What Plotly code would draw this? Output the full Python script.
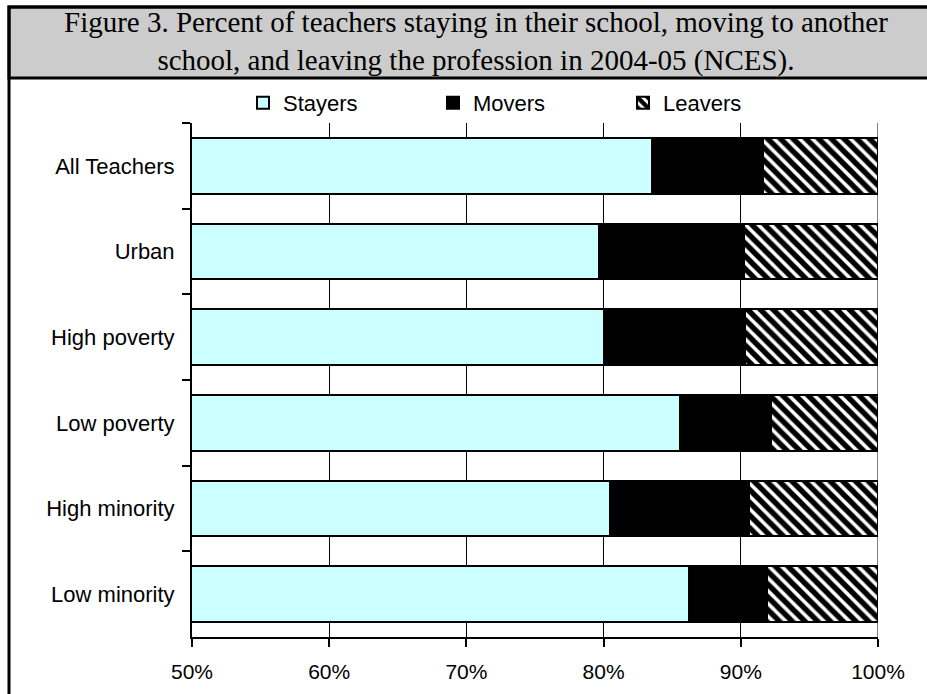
import plotly.graph_objects as go

categories = ["All Teachers", "Urban", "High poverty", "Low poverty", "High minority", "Low minority"]
stayers = [83.5, 79.7, 80.0, 85.6, 80.5, 86.2]
movers = [8.1, 10.5, 10.3, 6.6, 10.1, 5.7]
leavers = [8.4, 9.8, 9.7, 7.8, 9.4, 8.1]
x_ticks = [50, 60, 70, 80, 90, 100]
x_tick_labels = ["50%", "60%", "70%", "80%", "90%", "100%"]

title_text = ("Figure 3. Percent of teachers staying in their school, moving to another<br>"
              "school, and leaving the profession in 2004-05 (NCES).")

W, H = 927, 694
L, R, T, B = 192, 49, 123, 57
pw, ph = W - L - R, H - T - B


def px_x(p):
    return (p - L) / pw


def px_y(p):
    return (H - B - p) / ph


sans = "Arial, Liberation Sans, sans-serif"
serif = "Times New Roman, Liberation Serif, serif"

fig = go.Figure()
fig.add_trace(go.Bar(y=categories, x=stayers, name="Stayers", orientation="h",
                     marker=dict(color="#CCFFFF", line=dict(color="black", width=2))))
fig.add_trace(go.Bar(y=categories, x=movers, name="Movers", orientation="h",
                     marker=dict(color="black", line=dict(color="black", width=2))))
fig.add_trace(go.Bar(y=categories, x=leavers, name="Leavers", orientation="h",
                     marker=dict(color="white", line=dict(color="black", width=2),
                                 pattern=dict(shape="\\", fgcolor="black", bgcolor="white",
                                              size=9, solidity=0.6, fgopacity=1))))

fig.update_layout(
    width=W, height=H,
    margin=dict(l=L, r=R, t=T, b=B, autoexpand=False),
    barmode="stack", bargap=0.35,
    paper_bgcolor="white", plot_bgcolor="white",
    font=dict(family=sans, size=21, color="black"),
    showlegend=True,
    legend=dict(orientation="h", x=px_x(243), xanchor="left", y=px_y(103), yanchor="middle",
                font=dict(family=sans, size=22, color="black"),
                entrywidth=145, entrywidthmode="pixels", traceorder="normal",
                bgcolor="rgba(0,0,0,0)"),
    xaxis=dict(range=[50, 100], tickvals=x_ticks, ticktext=x_tick_labels,
               showgrid=True, gridcolor="black", gridwidth=1,
               showline=True, linecolor="black", linewidth=2,
               ticks="outside", ticklen=8, tickwidth=2, tickcolor="black",
               ticklabelstandoff=7, zeroline=False,
               tickfont=dict(family=sans, size=21, color="black")),
    yaxis=dict(autorange="reversed", showgrid=False,
               showline=True, linecolor="black", linewidth=2,
               ticks="outside", ticklen=8, tickwidth=2, tickcolor="black",
               tickson="boundaries", ticklabelstandoff=11,
               tickfont=dict(family=sans, size=22, color="black")),
    shapes=[
        dict(type="rect", xref="paper", yref="paper",
             x0=px_x(9), x1=px_x(945), y0=px_y(78), y1=px_y(7),
             fillcolor="#CCCCCC", line=dict(color="black", width=3), layer="below"),
        dict(type="rect", xref="paper", yref="paper",
             x0=px_x(9), x1=px_x(945), y0=px_y(720), y1=px_y(7),
             fillcolor="rgba(0,0,0,0)", line=dict(color="black", width=3), layer="above"),
        dict(type="line", xref="x", yref="paper", x0=100, x1=100, y0=0, y1=1,
             line=dict(color="black", width=1), layer="below"),
    ],
    annotations=[
        dict(text=title_text, xref="paper", yref="paper", x=px_x(475.5), y=px_y(42),
             xanchor="center", yanchor="middle", showarrow=False, align="center",
             font=dict(family=serif, size=29, color="black")),
    ],
)

fig.write_html("out.html")
